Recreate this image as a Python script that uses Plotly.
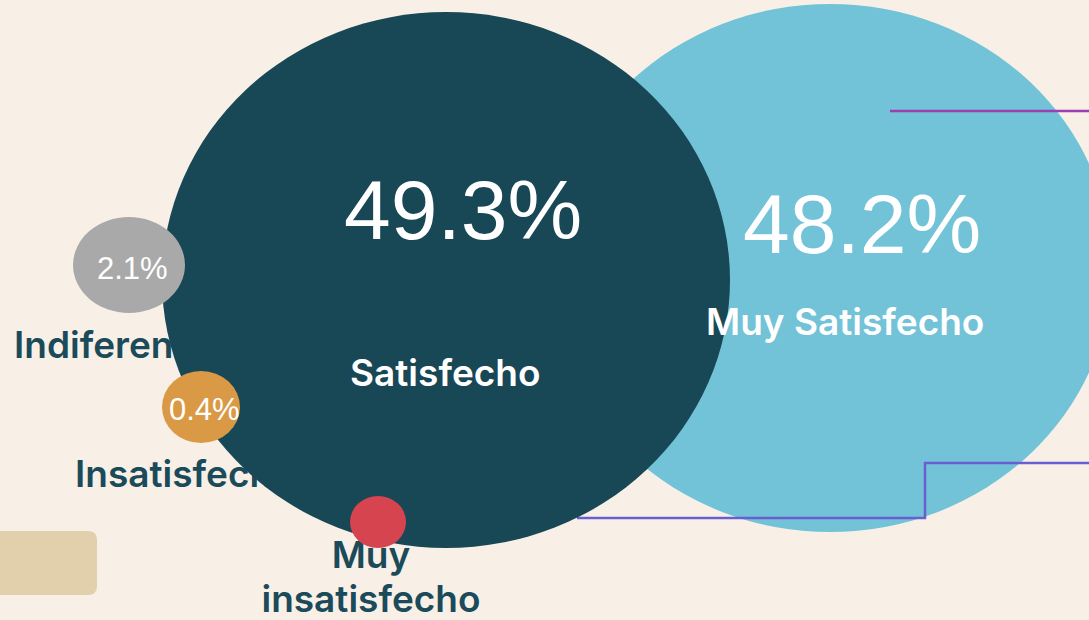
import plotly.graph_objects as go

# data
categories = ["Muy Satisfecho", "Satisfecho", "Indiferente", "Insatisfecho", "Muy insatisfecho"]
percent = [48.2, 49.3, 2.1, 0.4, None]
colors = ["#72C3D8", "#184755", "#A9A9A9", "#DA9A45", "#D6444F"]

# bubble layout (canvas units, y grows downward)
bubble_x = [830, 446, 129, 201, 378]
bubble_y = [268, 280, 265, 407, 522]
bubble_rx = [282, 284, 56, 39, 28]
bubble_ry = [264, 268, 48, 36, 26]

BG = "#F8F0E6"
DARK_TEXT = "#1B4A5A"
W, H = 1089, 620
LABEL_FONT = "Inter"

fig = go.Figure()

# outside labels sit behind the big circle -> scatter text (trace layer)
fig.add_trace(go.Scatter(
    x=[14, 75, 371, 371],
    y=[349, 478, 559, 603],
    mode="text",
    text=["Indiferente", "Insatisfecho", "Muy", "insatisfecho"],
    textposition=["middle right", "middle right", "middle center", "middle center"],
    textfont=dict(family=LABEL_FONT, size=37, color=DARK_TEXT, weight=600),
    hoverinfo="skip", showlegend=False,
))

shapes = []

def ellipse(i):
    return dict(type="circle", xref="x", yref="y", layer="above",
                x0=bubble_x[i] - bubble_rx[i], x1=bubble_x[i] + bubble_rx[i],
                y0=bubble_y[i] - bubble_ry[i], y1=bubble_y[i] + bubble_ry[i],
                fillcolor=colors[i], line=dict(width=0))

shapes.append(ellipse(0))
# connector lines
shapes.append(dict(type="line", xref="x", yref="y", layer="above",
                   x0=890, x1=W, y0=111, y1=111,
                   line=dict(color="#9C3FB3", width=2.5)))
shapes.append(dict(type="path", xref="x", yref="y", layer="above",
                   path="M 577 518 L 925 518 L 925 463 L 1089 463",
                   line=dict(color="#6A5FD2", width=2.5)))
for i in range(1, 5):
    shapes.append(ellipse(i))
# rounded beige tab bottom-left
shapes.append(dict(type="path", xref="x", yref="y", layer="above",
                   path="M -10 531 L 88 531 Q 97 531 97 540 L 97 586 Q 97 595 88 595 L -10 595 Z",
                   fillcolor="#E2D0AC", line=dict(width=0)))

annotations = []
big = [(0, 862, 224, 84), (1, 463, 210, 84), (2, 132, 268, 31), (3, 204, 409, 31)]
for i, ax, ay, fs in big:
    annotations.append(dict(x=ax, y=ay, xref="x", yref="y", text=f"{percent[i]}%",
                            showarrow=False, xanchor="center", yanchor="middle",
                            font=dict(family="Liberation Sans, Arial", size=fs, color="white")))
for txt, ax, ay in [("Muy Satisfecho", 845, 321), ("Satisfecho", 445, 372)]:
    annotations.append(dict(x=ax, y=ay, xref="x", yref="y", text=txt, showarrow=False,
                            xanchor="center", yanchor="middle",
                            font=dict(family=LABEL_FONT, size=37, color="white", weight=600)))

fig.update_layout(
    width=W, height=H,
    margin=dict(l=0, r=0, t=0, b=0),
    paper_bgcolor=BG, plot_bgcolor=BG,
    xaxis=dict(range=[0, W], visible=False, fixedrange=True),
    yaxis=dict(range=[H, 0], visible=False, fixedrange=True),
    shapes=shapes, annotations=annotations,
    showlegend=False,
)

fig.write_html("out.html", config={"displayModeBar": False},
               post_script="document.body.style.margin='0';")
